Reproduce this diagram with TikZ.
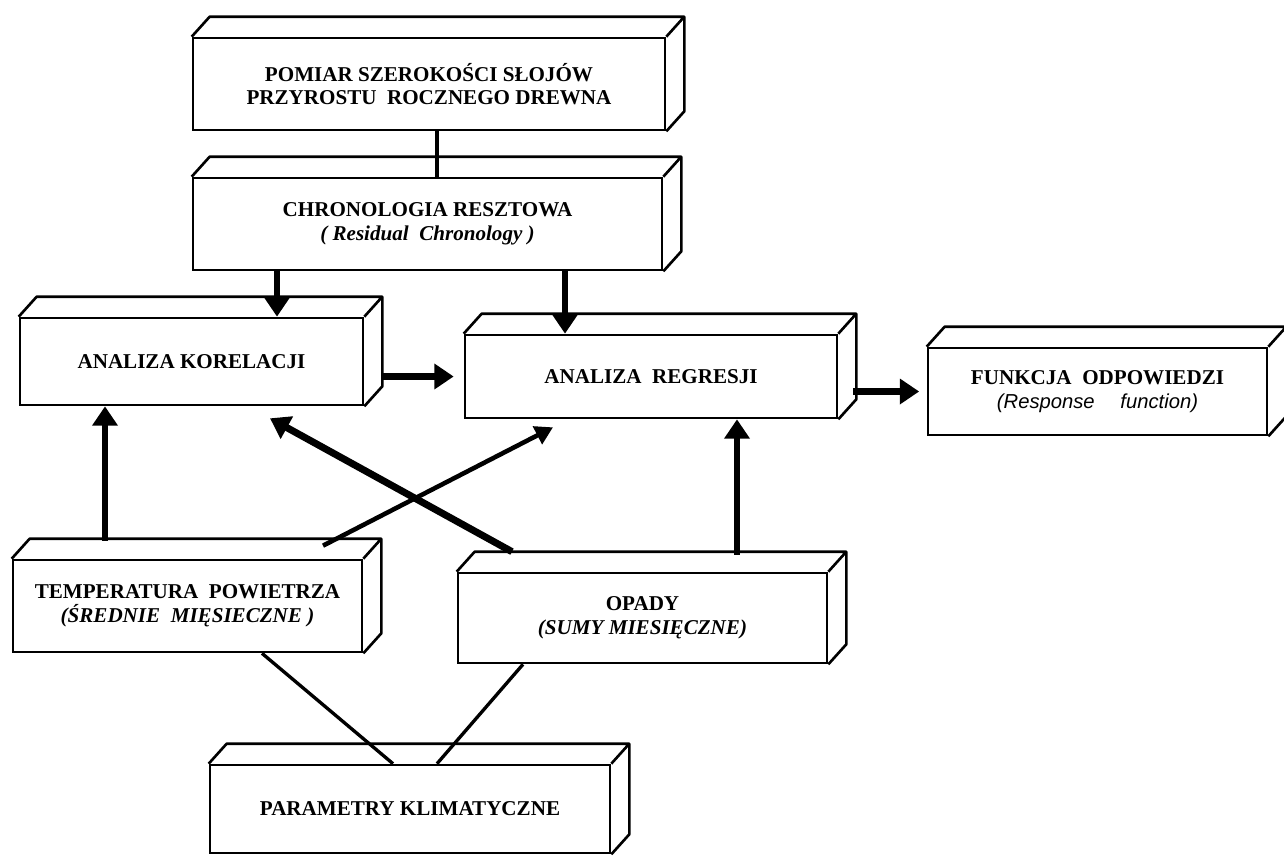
\documentclass[tikz,border=0pt]{standalone}
\usepackage{fontspec}
\setmainfont{Liberation Serif}
\newfontfamily\sansfont{Liberation Sans}
\usetikzlibrary{arrows.meta}

\begin{document}
\begin{tikzpicture}[
    blok/.style={draw, line width=1.5pt, align=center, inner sep=0pt,
        font=\fontsize{12}{13.5}\selectfont\bfseries},
    arr/.style={line width=3.6pt, -{Triangle[width=14pt,length=11pt]}},
    arrcienka/.style={line width=2.6pt, -{Triangle[width=11pt,length=10pt]}},
    linia/.style={line width=1.9pt}]

\fill[white] (0,0) rectangle (25.68,-17.34);
\useasboundingbox (0,0) rectangle (25.68,-17.34);

% bryly
\node [blok, minimum width=9.44cm, minimum height=1.84cm] (pomiar) at (8.58,-1.68)
    {POMIAR SZEROKOŚCI SŁOJÓW\\PRZYROSTU\ \ ROCZNEGO DREWNA};
\node [blok, minimum width=9.38cm, minimum height=1.84cm] (chrono) at (8.55,-4.48)
    {CHRONOLOGIA RESZTOWA\\\textit{( Residual\ \ Chronology )}};
\node [blok, minimum width=6.86cm, minimum height=1.74cm] (korel) at (3.83,-7.23)
    {ANALIZA KORELACJI};
\node [blok, minimum width=7.44cm, minimum height=1.66cm] (regres) at (13.02,-7.53)
    {ANALIZA\ \ REGRESJI};
\node [blok, minimum width=6.78cm, minimum height=1.74cm] (funkcja) at (21.95,-7.83)
    {FUNKCJA\ \ ODPOWIEDZI\\{\sansfont\mdseries\itshape\fontsize{11.5}{13.5}\selectfont (Response\quad\ function)}};
\node [blok, minimum width=6.98cm, minimum height=1.84cm] (temp) at (3.75,-12.12)
    {TEMPERATURA\ \ POWIETRZA\\\textit{(ŚREDNIE\ \ MIĘSIECZNE )}};
\node [blok, minimum width=7.38cm, minimum height=1.80cm] (opady) at (12.85,-12.36)
    {OPADY\\\textit{(SUMY MIESIĘCZNE)}};
\node [blok, minimum width=8.00cm, minimum height=1.76cm] (param) at (8.2,-16.18)
    {PARAMETRY KLIMATYCZNE};

% gorne i boczne sciany
\foreach \b in {pomiar,chrono,korel,regres,funkcja,temp,opady,param}
    \draw [line width=1.5pt, line join=round]
        (\b.north west) -- ++(0.36,0.4) -- ([shift={(0.36,0.4)}]\b.north east)
        -- ([shift={(0.36,0.4)}]\b.south east) -- (\b.south east)
        (\b.north east) -- ++(0.36,0.4);

% polaczenia
\draw [linia] ([xshift=0.16cm]pomiar.south) -- ([xshift=0.16cm]pomiar.south |- chrono.north);
\draw [arr] ([xshift=1.71cm]korel.north |- chrono.south) -- ([xshift=1.71cm]korel.north);
\draw [arr] ([xshift=-1.72cm]regres.north |- chrono.south) -- ([xshift=-1.72cm]regres.north);
\draw [arr, shorten >=0.2cm] ([xshift=0.36cm]korel.east |- regres.west) -- (regres.west);
\draw [arr, shorten >=0.15cm] ([xshift=0.3cm]regres.east |- funkcja.west) -- (funkcja.west);

\draw [arr] ([xshift=-1.73cm,yshift=0.36cm]korel.south |- temp.north) -- ([xshift=-1.73cm]korel.south);
\draw [arr] ([xshift=1.72cm,yshift=0.34cm]regres.south |- opady.north) -- ([xshift=1.72cm]regres.south);
\draw [arrcienka] ([shift={(2.71,0.26)}]temp.north) -- ([shift={(-1.96,-0.16)}]regres.south);
\draw [arr, line width=4pt] ([shift={(-2.61,0.4)}]opady.north) -- ([shift={(1.57,-0.24)}]korel.south);

\draw [linia] ([xshift=1.49cm]temp.south) -- ([xshift=-0.34cm]param.north);
\draw [linia] ([xshift=-2.39cm]opady.south) -- ([xshift=0.54cm]param.north);

\end{tikzpicture}
\end{document}
